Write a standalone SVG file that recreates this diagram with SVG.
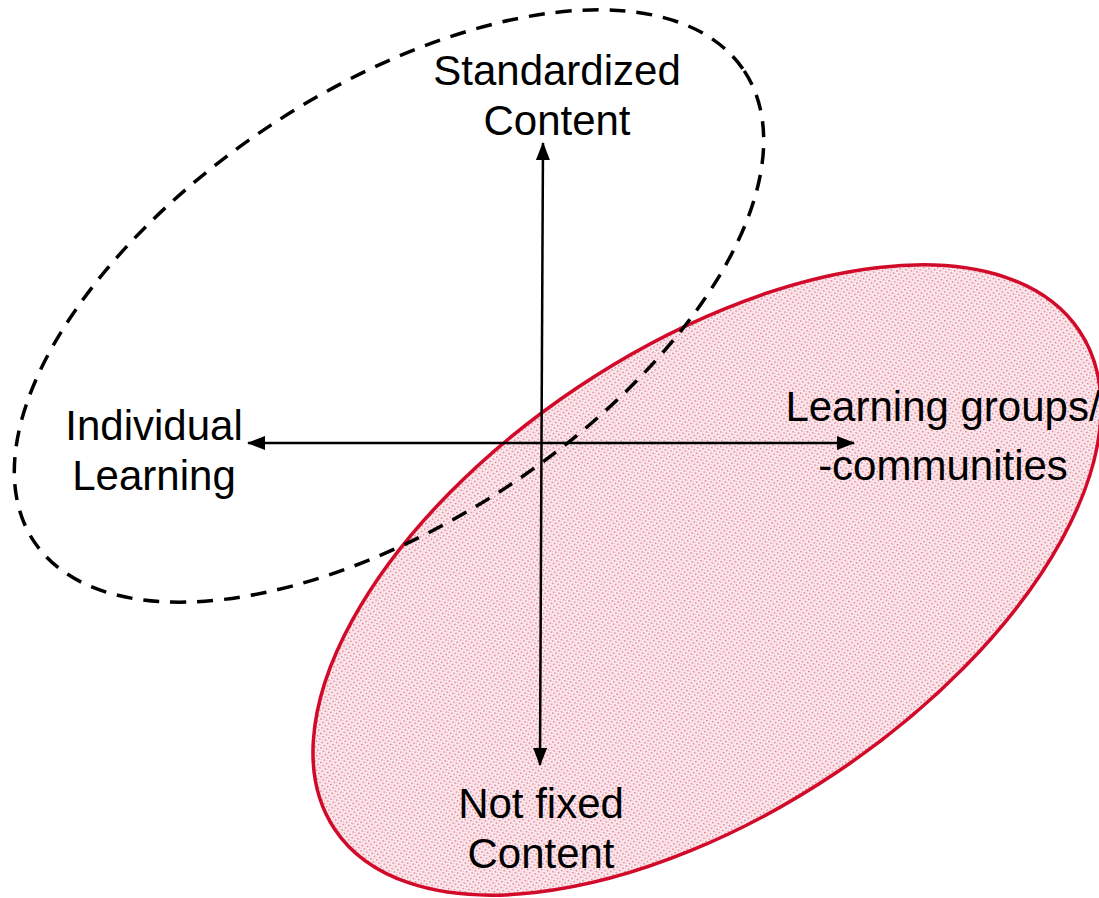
<svg xmlns="http://www.w3.org/2000/svg" width="1099" height="898" viewBox="0 0 1099 898">
<style>
.lbl{font-family:"Liberation Sans",Arial,sans-serif;font-size:42px;fill:#000;text-anchor:middle}
.axis{stroke:#000;stroke-width:2.5;fill:none}
</style>
<defs>
<pattern id="dots" width="4" height="4" patternUnits="userSpaceOnUse">
<rect width="4" height="4" fill="#fbecef"/>
<rect width="1.5" height="1.5" fill="#e46f88"/>
<rect x="2" y="2" width="1" height="1" fill="#f2b3c1"/>
</pattern>
<marker id="ah" viewBox="0 0 18 14" refX="17" refY="7" markerWidth="18" markerHeight="14" markerUnits="userSpaceOnUse" orient="auto">
<path d="M0,0 L18,7 L0,14 z" fill="#000"/>
</marker>
</defs>
<g id="red-ellipse">
<ellipse cx="707" cy="580" rx="448" ry="232" transform="rotate(-33.8 707 580)" fill="url(#dots)" stroke="#d20a2a" stroke-width="3.5"/>
</g>
<g id="dashed-ellipse">
<ellipse cx="389" cy="306" rx="426" ry="216" transform="rotate(-33.5 389 306)" fill="none" stroke="#000" stroke-width="3.5" stroke-dasharray="16 11"/>
</g>
<g id="connectors">
<line class="axis" x1="541.5" y1="443" x2="543" y2="143" marker-end="url(#ah)"/>
<line class="axis" x1="541.5" y1="443" x2="540" y2="765" marker-end="url(#ah)"/>
<line class="axis" x1="541.5" y1="443" x2="248" y2="443" marker-end="url(#ah)"/>
<line class="axis" x1="541.5" y1="443" x2="854" y2="443" marker-end="url(#ah)"/>
</g>
<g id="node-top"><text class="lbl" x="557" y="85">Standardized</text><text class="lbl" x="557" y="135">Content</text></g>
<g id="node-left"><text class="lbl" x="154" y="440">Individual</text><text class="lbl" x="154" y="490">Learning</text></g>
<g id="node-right"><text class="lbl" x="943" y="421">Learning groups/</text><text class="lbl" x="943" y="480">-communities</text></g>
<g id="node-bottom"><text class="lbl" x="541" y="818">Not fixed</text><text class="lbl" x="541" y="868">Content</text></g>
</svg>
